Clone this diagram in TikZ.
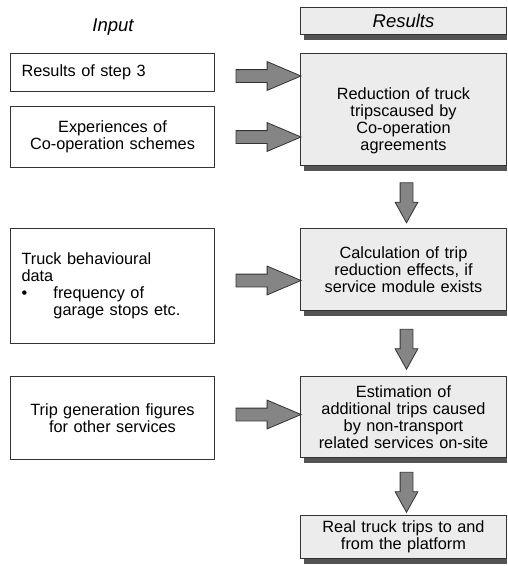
\documentclass[tikz,border=0pt]{standalone}
\usepackage{fontspec}
\setmainfont{Liberation Sans}
\usetikzlibrary{positioning,shapes.arrows,backgrounds}
\definecolor{boxgray}{gray}{0.925}
\definecolor{shadowgray}{gray}{0.33}
\definecolor{arrowgray}{gray}{0.52}
\definecolor{edgegray}{gray}{0.2}
\newcommand{\boxfont}{\fontsize{16.3}{17}\selectfont}
\newcommand{\headfont}{\fontsize{18.5}{20}\selectfont\itshape}
\tikzset{
  inbox/.style={draw=edgegray, line width=1pt, fill=white, anchor=north west,
    text width=182pt, inner xsep=11pt, inner ysep=0pt, align=center, font=\boxfont},
  resbox/.style={draw=edgegray, line width=1pt, fill=boxgray, anchor=north west,
    text width=190pt, inner xsep=8pt, inner ysep=0pt, align=center, font=\boxfont},
  boxshadow/.style={fill=shadowgray},
  sidearrow/.style={single arrow, draw=edgegray, line width=0.8pt, fill=arrowgray,
    inner sep=6pt, minimum height=65pt, minimum width=28pt,
    single arrow tip angle=46, single arrow head extend=8pt},
  downarrow/.style={single arrow, draw=edgegray, line width=0.8pt, fill=arrowgray,
    inner sep=6pt, minimum height=40pt, minimum width=22pt,
    single arrow tip angle=58, single arrow head extend=5pt, rotate=-90}
}

\begin{document}
\begin{tikzpicture}[x=1pt, y=-1pt]
  \useasboundingbox (0,0) rectangle (507,566);
  % column heads
  \node[font=\headfont] (inhead) at (113,27) {Input};
  \node[resbox, font=\headfont, minimum height=27pt] (reshead) at (300,7) {Results};
  % input column
  \node[inbox, align=left, minimum height=38pt] (in1) at (10,53) {Results of step 3};
  \node[inbox, minimum height=61pt, below=14pt of in1] (in2)
    {Experiences of\\Co-operation schemes};
  \node[inbox, align=left, minimum height=115pt] (in3) at (10,228)
    {Truck behavioural\\data\\\makebox[32pt][l]{\textbullet}frequency of\\\hspace*{32pt}garage stops etc.};
  \node[inbox, minimum height=83pt] (in4) at (10,376)
    {Trip generation figures\\for other services};
  % results column
  \node[resbox, minimum height=112pt] (res1) at (300,53)
    {\mbox{}\\[17pt]Reduction of truck\\tripscaused by\\Co-operation\\agreements};
  \node[resbox, minimum height=82pt] (res2) at (300,228)
    {Calculation of trip\\reduction effects, if\\service module exists};
  \node[resbox, minimum height=81pt] (res3) at (300,376)
    {Estimation of\\additional trips caused\\by non-transport\\related services on-site};
  \node[resbox, minimum height=43pt] (res4) at (300,515)
    {Real truck trips to and\\from the platform};
  % shadows of the result boxes
  \begin{scope}[on background layer]
    \foreach \r in {reshead,res1,res2,res3,res4}
      \fill[boxshadow] (\r.south west) ++(4,-4) rectangle ++(203,9);
  \end{scope}
  % input arrows
  \path (in1.east) -- (in1.east -| res1.west)
    node[midway, xshift=3.5pt, yshift=-3.5pt, sidearrow] (a1) {};
  \path (in2.east) -- (in2.east -| res1.west)
    node[midway, xshift=3.5pt, sidearrow] (a2) {};
  \path (in3.east) -- (in3.east -| res2.west)
    node[midway, xshift=3.5pt, yshift=5.5pt, sidearrow] (a3) {};
  \path (in4.east) -- (in4.east -| res3.west)
    node[midway, xshift=3.5pt, yshift=3.5pt, sidearrow] (a4) {};
  % result arrows
  \path (res1.south) -- (res2.north) node[midway, xshift=3pt, downarrow] (d1) {};
  \path (res2.south) -- (res3.north) node[midway, xshift=3pt, downarrow] (d2) {};
  \path (res3.south) -- (res4.north) node[midway, xshift=3pt, downarrow] (d3) {};
\end{tikzpicture}
\end{document}
